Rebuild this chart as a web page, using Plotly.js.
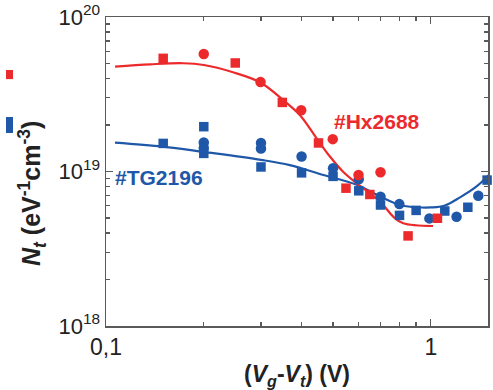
<!DOCTYPE html>
<html>
<head>
<meta charset="utf-8">
<script src="https://cdn.plot.ly/plotly-3.0.1.min.js"></script>
<style>
  html, body { margin: 0; padding: 0; background: #fff; }
  #chart { width: 493px; height: 390px; }
</style>
</head>
<body>
<div id="chart"></div>
<script>
// ---- data (x: Vg-Vt in V, y: Nt in eV^-1 cm^-3) ----
const hxSquaresX = [0.150, 0.250, 0.349, 0.451, 0.548, 0.649, 0.851, 1.048];
const hxSquaresY = [5.4e19, 5.04e19, 2.8e19, 1.53e19, 7.8e18, 7.1e18, 3.83e18, 4.98e18];
const hxCirclesX = [0.2, 0.299, 0.399, 0.499, 0.599, 0.700];
const hxCirclesY = [5.76e19, 3.8e19, 2.49e19, 1.62e19, 9.5e18, 9.9e18];
const hxFitX = [0.1066, 0.137, 0.173, 0.2, 0.246, 0.298, 0.351, 0.395, 0.445, 0.489, 0.537, 0.591, 0.649, 0.713, 0.766, 0.822, 1.016];
const hxFitY = [4.77e19, 4.94e19, 5.02e19, 4.89e19, 4.39e19, 3.78e19, 2.9e19, 2.32e19, 1.64e19, 1.25e19, 9.97e18, 8.39e18, 7.23e18, 6.07e18, 5.1e18, 4.62e18, 4.44e18];

const tgSquaresX = [0.150, 0.2, 0.2, 0.3, 0.4, 0.5, 0.6, 0.7, 0.801, 0.901, 1.104, 1.30, 1.49];
const tgSquaresY = [1.52e19, 1.95e19, 1.31e19, 1.07e19, 9.8e18, 9.3e18, 7.5e18, 6.07e18, 5.2e18, 5.6e18, 5.55e18, 5.87e18, 8.8e18];
const tgCirclesX = [0.2, 0.2, 0.3, 0.3, 0.4, 0.5, 0.6, 0.7, 0.8, 0.99, 1.2, 1.40, 1.585];
const tgCirclesY = [1.54e19, 1.42e19, 1.53e19, 1.41e19, 1.25e19, 1.05e19, 8.9e18, 6.87e18, 6.15e18, 4.97e18, 5.1e18, 6.97e18, 1.02e19];
const tgFitX = [0.1066, 0.15, 0.2, 0.3, 0.368, 0.467, 0.591, 0.697, 0.803, 0.904, 1.0, 1.1, 1.23, 1.38, 1.49, 1.6];
const tgFitY = [1.54e19, 1.45e19, 1.34e19, 1.19e19, 1.10e19, 9.5e18, 8.2e18, 6.9e18, 6.07e18, 5.87e18, 5.85e18, 6.0e18, 6.8e18, 7.97e18, 9.25e18, 1.1e19];

const xTickVals = [0.1, 1];
const xTickText = ['0,1', '1'];
const xMinorVals = [0.2, 0.3, 0.4, 0.5, 0.6, 0.7, 0.8, 0.9];
const yTickVals = [1e18, 1e19, 1e20];
const yTickText = ['10<sup>18</sup>', '10<sup>19</sup>', '10<sup>20</sup>'];
const yMinorVals = [2e18, 3e18, 4e18, 5e18, 6e18, 7e18, 8e18, 9e18, 2e19, 3e19, 4e19, 5e19, 6e19, 7e19, 8e19, 9e19];

const xTitle = '<b>(<i>V<sub>g</sub></i>-<i>V<sub>t</sub></i>) (V)</b>';
const yTitle = '<b><i>N<sub>t</sub></i> (eV<sup>-1</sup>cm<sup>-3</sup>)</b>';
const labelHx = '#Hx2688';
const labelTG = '#TG2196';

// ---- style ----
const RED = '#ec2a2c';
const BLUE = '#1f58a8';
const AXIS = '#5a5a5a';
const FONT = 'Liberation Sans, Arial, sans-serif';

const traces = [
  { x: tgFitX, y: tgFitY, mode: 'lines', line: { color: BLUE, width: 2.2, shape: 'spline' }, hoverinfo: 'skip', name: 'TG fit' },
  { x: hxFitX, y: hxFitY, mode: 'lines', line: { color: RED, width: 2.2, shape: 'spline' }, hoverinfo: 'skip', name: 'Hx fit' },
  { x: tgSquaresX, y: tgSquaresY, mode: 'markers', marker: { symbol: 'square', size: 9.5, color: BLUE }, cliponaxis: false, name: 'TG sq' },
  { x: tgCirclesX, y: tgCirclesY, mode: 'markers', marker: { symbol: 'circle', size: 10.5, color: BLUE }, cliponaxis: false, name: 'TG ci' },
  { x: hxSquaresX, y: hxSquaresY, mode: 'markers', marker: { symbol: 'square', size: 9.5, color: RED }, cliponaxis: false, name: 'Hx sq' },
  { x: hxCirclesX, y: hxCirclesY, mode: 'markers', marker: { symbol: 'circle', size: 10.5, color: RED }, cliponaxis: false, name: 'Hx ci' }
];

const layout = {
  width: 493, height: 390,
  margin: { l: 106, r: 5, t: 17, b: 64 },
  paper_bgcolor: '#fff', plot_bgcolor: '#fff',
  showlegend: false,
  font: { family: FONT, color: '#222' },
  xaxis: {
    type: 'log', range: [-1, 0.176], autorange: false,
    showgrid: false, zeroline: false,
    showline: true, linecolor: AXIS, linewidth: 1.5, mirror: 'ticks',
    ticks: 'inside', ticklen: 7, tickwidth: 1.2, tickcolor: AXIS,
    tickmode: 'array', tickvals: xTickVals, ticktext: xTickText,
    tickfont: { size: 23, color: '#222', family: FONT },
    minor: { tickmode: 'array', tickvals: xMinorVals, ticks: 'inside', ticklen: 4, tickwidth: 1.2, tickcolor: AXIS, showgrid: false },
    title: { text: xTitle, font: { size: 23, color: '#222', family: FONT }, standoff: 10 },
    automargin: false
  },
  yaxis: {
    type: 'log', range: [18, 20], autorange: false,
    showgrid: false, zeroline: false,
    showline: true, linecolor: AXIS, linewidth: 1.5, mirror: 'ticks',
    ticks: 'inside', ticklen: 7, tickwidth: 1.2, tickcolor: AXIS,
    tickmode: 'array', tickvals: yTickVals, ticktext: yTickText,
    tickfont: { size: 22, color: '#222', family: FONT },
    minor: { tickmode: 'array', tickvals: yMinorVals, ticks: 'inside', ticklen: 4, tickwidth: 1.2, tickcolor: AXIS, showgrid: false },
    title: { text: '' },
    automargin: false
  },
  annotations: [
    // y-axis title (placed as an annotation so it can sit slightly below centre, as in the reference)
    { x: -0.194, y: 0.43, xref: 'paper', yref: 'paper', text: yTitle, textangle: -90, showarrow: false,
      font: { size: 25, color: '#222', family: FONT }, xanchor: 'center', yanchor: 'middle' },
    { x: Math.log10(0.682), y: Math.log10(2.1e19), xref: 'x', yref: 'y', text: '<b>' + labelHx + '</b>', showarrow: false,
      font: { size: 21, color: RED, family: FONT }, xanchor: 'center', yanchor: 'middle' },
    { x: Math.log10(0.146), y: Math.log10(9.1e18), xref: 'x', yref: 'y', text: '<b>' + labelTG + '</b>', showarrow: false,
      font: { size: 21, color: BLUE, family: FONT }, xanchor: 'center', yanchor: 'middle' }
  ],
  shapes: [
    // clipped symbol fragments visible at the far left edge of the original image
    { type: 'rect', xref: 'paper', yref: 'paper', x0: -0.2618, x1: -0.2435, y0: 0.799, y1: 0.8285, fillcolor: RED, line: { width: 0 } },
    { type: 'rect', xref: 'paper', yref: 'paper', x0: -0.2618, x1: -0.2435, y0: 0.6246, y1: 0.6764, fillcolor: BLUE, line: { width: 0 } }
  ]
};

Plotly.newPlot('chart', traces, layout, { staticPlot: true, displayModeBar: false });
</script>
</body>
</html>
